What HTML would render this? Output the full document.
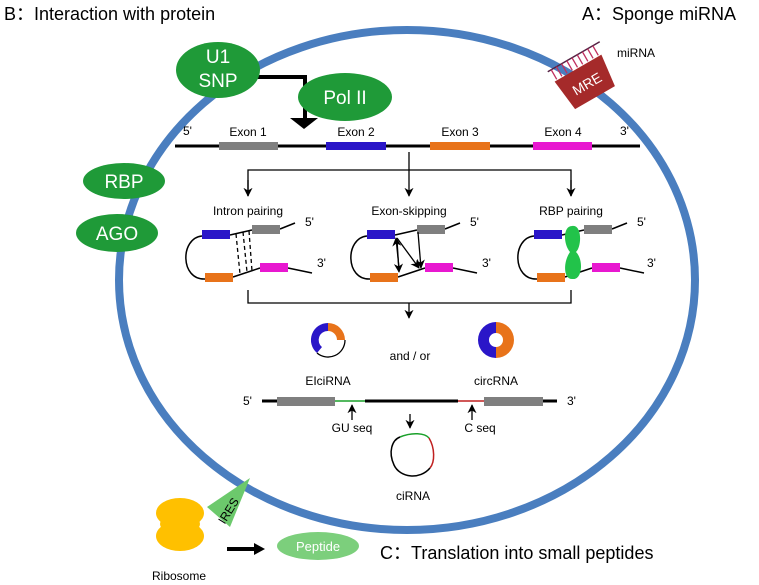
<!DOCTYPE html>
<html><head><meta charset="utf-8"><style>
html,body{margin:0;padding:0;background:#fff;width:759px;height:585px;overflow:hidden}
svg{display:block;font-family:"Liberation Sans","Noto Sans CJK SC",sans-serif}
</style></head><body>
<svg width="759" height="585" viewBox="0 0 759 585" xmlns="http://www.w3.org/2000/svg">
<defs>
<marker id="ah" viewBox="0 0 10 10" refX="9" refY="5" markerWidth="7" markerHeight="7" orient="auto"><path d="M0,0 L10,5 L0,10 L3,5 z" fill="#000"/></marker>
</defs>
<ellipse cx="407" cy="280" rx="288" ry="250" fill="none" stroke="#4a7ebf" stroke-width="8"/>
<text x="4" y="20" font-size="18">B：Interaction with protein</text>
<text x="582" y="20" font-size="18">A：Sponge miRNA</text>
<text x="380" y="559" font-size="18">C：Translation into small peptides</text>
<polyline points="256,77 305,77 305,120" fill="none" stroke="#000" stroke-width="4"/>
<polygon points="290,118 318,118 304,129" fill="#000"/>
<ellipse cx="218" cy="70" rx="42" ry="28" fill="#1f9a38"/>
<text x="218" y="63" font-size="19" fill="#fff" text-anchor="middle">U1</text>
<text x="218" y="87" font-size="19" fill="#fff" text-anchor="middle">SNP</text>
<ellipse cx="345" cy="97" rx="47" ry="24" fill="#1f9a38"/>
<text x="345" y="104" font-size="19" fill="#fff" text-anchor="middle">Pol  II</text>
<ellipse cx="124" cy="181" rx="41" ry="18" fill="#1f9a38"/>
<text x="124" y="188" font-size="19" fill="#fff" text-anchor="middle">RBP</text>
<ellipse cx="117" cy="233" rx="41" ry="19" fill="#1f9a38"/>
<text x="117" y="240" font-size="19" fill="#fff" text-anchor="middle">AGO</text>
<g transform="translate(586,82) rotate(-30)">
<path d="M-27,-16 L27,-16 L23,18 L-23,18 z" fill="#a52a2a"/>
<text x="0" y="7" font-size="14" fill="#fff" text-anchor="middle">MRE</text>
<line x1="-28" y1="-28" x2="32" y2="-28" stroke="#552244" stroke-width="1.5"/>
<g stroke="#c03060" stroke-width="1.3">
<line x1="-24" y1="-28" x2="-24" y2="-17"/><line x1="-18" y1="-28" x2="-18" y2="-17"/><line x1="-12" y1="-28" x2="-12" y2="-17"/><line x1="-6" y1="-28" x2="-6" y2="-17"/><line x1="0" y1="-28" x2="0" y2="-17"/><line x1="6" y1="-28" x2="6" y2="-17"/><line x1="12" y1="-28" x2="12" y2="-17"/><line x1="18" y1="-28" x2="18" y2="-17"/><line x1="24" y1="-28" x2="24" y2="-17"/>
</g></g>
<text x="617" y="57" font-size="12">miRNA</text>
<line x1="175" y1="146" x2="640" y2="146" stroke="#000" stroke-width="3"/>
<text x="183" y="135" font-size="12">5'</text>
<text x="620" y="135" font-size="12">3'</text>
<rect x="219" y="142" width="59" height="8" fill="#7f7f7f"/>
<rect x="326" y="142" width="60" height="8" fill="#2a16c8"/>
<rect x="430" y="142" width="60" height="8" fill="#e8731a"/>
<rect x="533" y="142" width="59" height="8" fill="#e818d0"/>
<text x="248" y="136" font-size="12" text-anchor="middle">Exon 1</text>
<text x="356" y="136" font-size="12" text-anchor="middle">Exon 2</text>
<text x="460" y="136" font-size="12" text-anchor="middle">Exon 3</text>
<text x="563" y="136" font-size="12" text-anchor="middle">Exon 4</text>
<g stroke="#000" stroke-width="1.3" fill="none">
<line x1="409" y1="152" x2="409" y2="196" marker-end="url(#ah)"/>
<polyline points="248,196 248,170 571,170 571,196"/>
<line x1="248" y1="180" x2="248" y2="196" marker-end="url(#ah)"/>
<line x1="571" y1="180" x2="571" y2="196" marker-end="url(#ah)"/>
</g>
<text x="248" y="215" font-size="12" text-anchor="middle">Intron pairing</text>
<text x="409" y="215" font-size="12" text-anchor="middle">Exon-skipping</text>
<text x="571" y="215" font-size="12" text-anchor="middle">RBP pairing</text>
<g id="loop1">
<path d="M202,236 C180,238 180,280 205,279" fill="none" stroke="#000" stroke-width="1.5"/>
<line x1="230" y1="235" x2="252" y2="230" stroke="#000" stroke-width="1.5"/>
<line x1="233" y1="277" x2="260" y2="268" stroke="#000" stroke-width="1.5"/>
<line x1="280" y1="229" x2="295" y2="223" stroke="#000" stroke-width="1.5"/>
<line x1="288" y1="268" x2="312" y2="273" stroke="#000" stroke-width="1.5"/>
<rect x="202" y="230" width="28" height="9" fill="#2a16c8"/>
<rect x="252" y="225" width="28" height="9" fill="#7f7f7f"/>
<rect x="205" y="273" width="28" height="9" fill="#e8731a"/>
<rect x="260" y="263" width="28" height="9" fill="#e818d0"/>
</g>
<text x="305" y="226" font-size="12">5'</text>
<text x="317" y="267" font-size="12">3'</text>
<g stroke="#000" stroke-width="1.3" stroke-dasharray="4,3">
<line x1="236" y1="234" x2="240" y2="274"/><line x1="243" y1="232" x2="247" y2="272"/><line x1="249" y1="231" x2="252" y2="271"/>
</g>
<use href="#loop1" transform="translate(165,0)"/>
<text x="470" y="226" font-size="12">5'</text>
<text x="482" y="267" font-size="12">3'</text>
<g stroke="#000" stroke-width="1.3" fill="none">
<line x1="397" y1="240" x2="399" y2="272" marker-end="url(#ah)"/>
<line x1="399" y1="268" x2="396" y2="238" marker-end="url(#ah)"/>
<line x1="397" y1="238" x2="419" y2="268" marker-end="url(#ah)"/>
<line x1="418" y1="232" x2="421" y2="268" marker-end="url(#ah)"/>
</g>
<use href="#loop1" transform="translate(332,0)"/>
<text x="637" y="226" font-size="12">5'</text>
<text x="647" y="267" font-size="12">3'</text>
<path d="M572,226 C582,224 582,246 576,252 C584,260 582,280 573,279 C563,280 563,262 570,252 C563,244 563,226 572,226 z" fill="#22c34a"/>
<g stroke="#000" stroke-width="1.3" fill="none">
<polyline points="248,290 248,303 571,303 571,290"/>
<line x1="409" y1="303" x2="409" y2="318" marker-end="url(#ah)"/>
</g>
<path d="M328,323 A17,17 0 0 1 345,340 L337,340 A9,9 0 0 0 328,331 z" fill="#e8731a"/>
<path d="M328,323 A17,17 0 0 0 317,353 L322,347 A9,9 0 0 1 328,331 z" fill="#2a16c8"/>
<path d="M345,340 A17,17 0 0 1 317,353" fill="none" stroke="#000" stroke-width="1.3"/>
<text x="328" y="385" font-size="12" text-anchor="middle">EIciRNA</text>
<text x="410" y="360" font-size="12" text-anchor="middle">and / or</text>
<path d="M496,322 A18,18 0 0 1 496,358 L496,347 A7,7 0 0 0 496,333 z" fill="#e8731a"/>
<path d="M496,322 A18,18 0 0 0 496,358 L496,347 A7,7 0 0 1 496,333 z" fill="#2a16c8"/>
<text x="496" y="385" font-size="12" text-anchor="middle">circRNA</text>
<line x1="262" y1="401" x2="335" y2="401" stroke="#000" stroke-width="3"/>
<line x1="335" y1="401" x2="365" y2="401" stroke="#1aa02a" stroke-width="1.5"/>
<line x1="365" y1="401" x2="458" y2="401" stroke="#000" stroke-width="3"/>
<line x1="458" y1="401" x2="485" y2="401" stroke="#c02020" stroke-width="1.5"/>
<line x1="543" y1="401" x2="557" y2="401" stroke="#000" stroke-width="3"/>
<rect x="277" y="397" width="58" height="9" fill="#7f7f7f"/>
<rect x="484" y="397" width="59" height="9" fill="#7f7f7f"/>
<text x="243" y="405" font-size="12">5'</text>
<text x="567" y="405" font-size="12">3'</text>
<g stroke="#000" stroke-width="1.3">
<line x1="352" y1="420" x2="352" y2="405" marker-end="url(#ah)"/>
<line x1="472" y1="420" x2="472" y2="405" marker-end="url(#ah)"/>
<line x1="410" y1="414" x2="410" y2="428" marker-end="url(#ah)"/>
</g>
<text x="352" y="432" font-size="12" text-anchor="middle">GU seq</text>
<text x="480" y="432" font-size="12" text-anchor="middle">C seq</text>
<path d="M400,437 C412,432 425,433 429,438" fill="none" stroke="#1aa02a" stroke-width="1.5"/>
<path d="M429,438 C435,448 435,462 430,468" fill="none" stroke="#c02020" stroke-width="1.5"/>
<path d="M430,468 C420,480 400,478 394,465 C388,452 392,440 400,437" fill="none" stroke="#000" stroke-width="1.5"/>
<text x="413" y="500" font-size="12" text-anchor="middle">ciRNA</text>
<polygon points="250,478 207,507 230,527" fill="#6cc96c"/>
<text transform="translate(232,513) rotate(-58)" font-size="12" text-anchor="middle">IRES</text>
<ellipse cx="180" cy="513" rx="24" ry="15" fill="#ffc000"/>
<ellipse cx="180" cy="536" rx="24" ry="15" fill="#ffc000"/>
<ellipse cx="180" cy="524" rx="20" ry="10" fill="#ffc000"/>
<line x1="227" y1="549" x2="255" y2="549" stroke="#000" stroke-width="4"/>
<polygon points="254,543 265,549 254,555" fill="#000"/>
<ellipse cx="318" cy="546" rx="41" ry="14" fill="#7ccf7c"/>
<text x="318" y="551" font-size="13" fill="#fff" text-anchor="middle">Peptide</text>
<text x="152" y="580" font-size="12">Ribosome</text>
</svg>
</body></html>
